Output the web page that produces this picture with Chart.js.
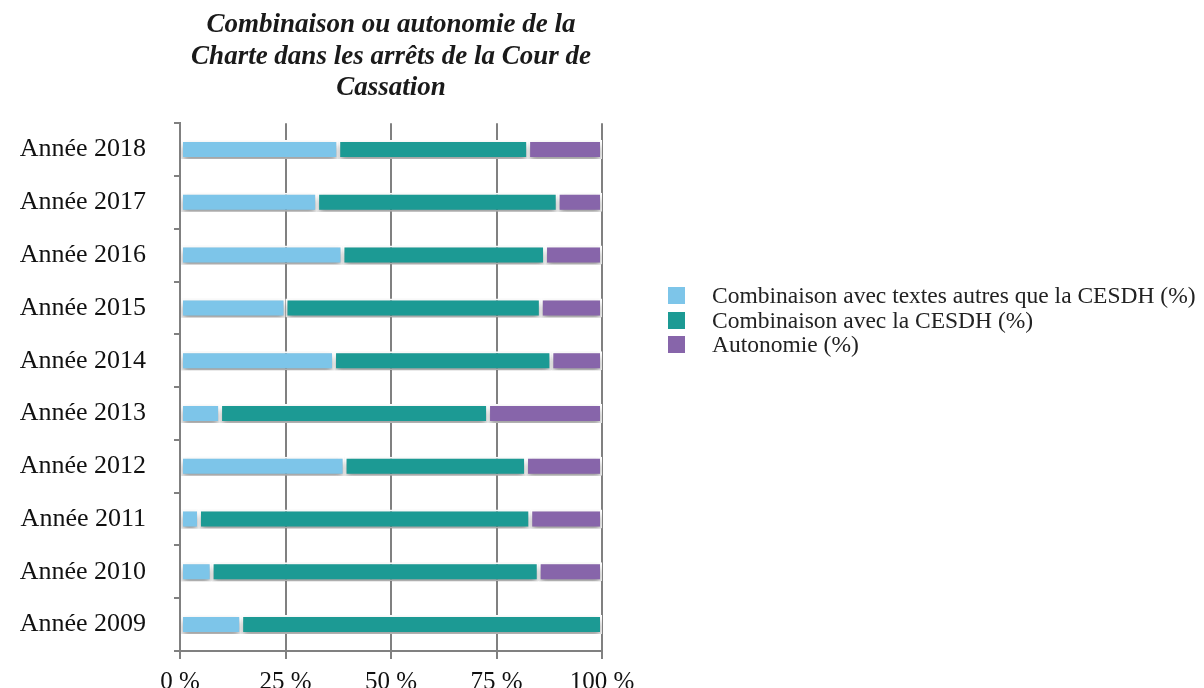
<!DOCTYPE html>
<html>
<head>
<meta charset="utf-8">
<script src="https://cdn.jsdelivr.net/npm/chart.js@4"></script>
<style>
  body { margin: 0; background: #fff; }
  #wrap { position: relative; width: 1204px; height: 688px; }
  #legende { position: absolute; left: 668px; top: 283px; font-family: "Liberation Serif", serif; font-size: 23.5px; color: #222; line-height: 24.5px; white-space: nowrap; }
  #legende span.box { display: inline-block; width: 17px; height: 17px; margin-right: 27px; vertical-align: -1px; }
</style>
</head>
<body>
<div id="wrap">
  <canvas id="barChart" width="1204" height="688"></canvas>
  <div id="legende"></div>
</div>
<script>
// Données (en %)
const annees = ['Année 2018', 'Année 2017', 'Année 2016', 'Année 2015', 'Année 2014',
                'Année 2013', 'Année 2012', 'Année 2011', 'Année 2010', 'Année 2009'];
const autresTextes = [37.5, 32.5, 38.5, 25, 36.5, 9.5, 39, 4.5, 7.5, 14.5];
const avecCesdh = [45, 57, 48, 60.5, 51.5, 63.5, 43, 78.5, 77.5, 85.5];
const autonomie = [17.5, 10.5, 13.5, 14.5, 12, 27, 18, 17, 15, 0];
const graduations = [0, 25, 50, 75, 100];

const series = [
  { label: 'Combinaison avec textes autres que la CESDH (%)', data: autresTextes, color: '#7dc5e9' },
  { label: 'Combinaison avec la CESDH (%)', data: avecCesdh, color: '#1c9a94' },
  { label: 'Autonomie  (%)', data: autonomie, color: '#8765aa' }
];

// Ombre portée sous les barres
const ombre = {
  id: 'ombre',
  beforeDatasetsDraw(chart) {
    const ctx = chart.ctx;
    ctx.save();
    ctx.shadowColor = 'rgba(0,0,0,0.4)';
    ctx.shadowBlur = 6;
    ctx.shadowOffsetY = 4;
  },
  afterDatasetsDraw(chart) {
    chart.ctx.restore();
  }
};

const serif = '"Liberation Serif", "Times New Roman", serif';

new Chart(document.getElementById('barChart'), {
  type: 'bar',
  data: {
    labels: annees,
    datasets: series.map(s => ({
      label: s.label,
      data: s.data,
      backgroundColor: s.color,
      borderColor: '#ffffff',
      borderWidth: 2,
      borderSkipped: false,
      categoryPercentage: 0.36,
      barPercentage: 1
    }))
  },
  options: {
    indexAxis: 'y',
    responsive: false,
    animation: false,
    layout: { padding: { left: 14, right: 602, top: 0, bottom: 0 } },
    plugins: {
      legend: { display: false },
      tooltip: { enabled: false },
      title: {
        display: true,
        fullSize: false,
        text: ['Combinaison ou autonomie de la', 'Charte dans les arrêts de la Cour de', 'Cassation'],
        color: '#1a1a1a',
        font: { family: serif, size: 27, style: 'italic', weight: 'bold', lineHeight: 1.15 },
        padding: { top: 10, bottom: 20 }
      }
    },
    scales: {
      x: {
        stacked: true,
        min: 0,
        max: 100,
        afterBuildTicks: axis => { axis.ticks = graduations.map(v => ({ value: v })); },
        ticks: {
          callback: v => v + ' %',
          color: '#111',
          font: { family: serif, size: 25 },
          padding: 8
        },
        grid: { color: '#808080', lineWidth: 2, tickLength: 8 },
        border: { color: '#808080', width: 2 },
        afterFit: axis => { axis.height = 37; }
      },
      y: {
        stacked: true,
        ticks: {
          color: '#111',
          font: { family: serif, size: 26 },
          padding: 28
        },
        grid: { offset: true, drawOnChartArea: false, color: '#808080', lineWidth: 2, tickLength: 6 },
        border: { color: '#808080', width: 2 },
        afterFit: axis => {
          axis.width = 166;
          axis.paddingTop = 0;
          axis.paddingBottom = 0;
        }
      }
    }
  },
  plugins: [ombre]
});

// Légende
document.getElementById('legende').innerHTML = series
  .map(s => '<div><span class="box" style="background:' + s.color + '"></span>' + s.label + '</div>')
  .join('');
</script>
</body>
</html>
